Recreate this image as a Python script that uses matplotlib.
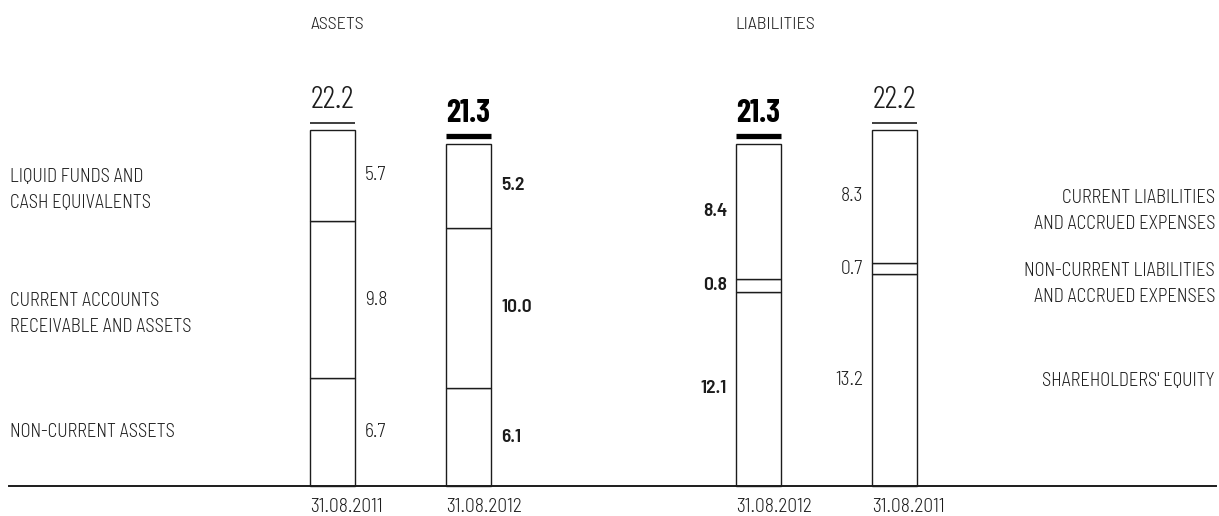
import matplotlib
matplotlib.use("Agg")
import matplotlib.pyplot as plt

# Balance sheet, EUR million
segments = ["non-current", "current", "liquid"]
assets_2011 = [6.7, 9.8, 5.7]
assets_2012 = [6.1, 10.0, 5.2]
liab_2012 = [12.1, 0.8, 8.4]
liab_2011 = [13.2, 0.7, 8.3]
total_2011 = 22.2
total_2012 = 21.3
dates = ["31.08.2011", "31.08.2012", "31.08.2012", "31.08.2011"]

asset_labels = ["NON-CURRENT ASSETS", "CURRENT ACCOUNTS\nRECEIVABLE AND ASSETS",
                "LIQUID FUNDS AND\nCASH EQUIVALENTS"]
liab_labels = ["SHAREHOLDERS' EQUITY", "NON-CURRENT LIABILITIES\nAND ACCRUED EXPENSES",
               "CURRENT LIABILITIES\nAND ACCRUED EXPENSES"]

FONT = "Barlow Semi Condensed"
BIG = "Barlow Condensed"
INK = "#1c1c1c"
W, H = 1219, 516
BASE = 486          # pixel row of the baseline
PPU = 16.05         # pixels per EUR million


def vy(p):
    # pixel row -> value axis
    return (BASE - p) / PPU


fig = plt.figure(figsize=(W / 100, H / 100), dpi=100)
ax = fig.add_axes([0, 0, 1, 1])
ax.set_xlim(0, W)
ax.set_ylim(vy(H), vy(0))
ax.axis("off")

bar_w = 45
bars = [
    (310, assets_2011, total_2011, False, "right"),
    (446, assets_2012, total_2012, True, "right"),
    (736, liab_2012, total_2012, True, "left"),
    (872, liab_2011, total_2011, False, "left"),
]

for (x0, vals, total, bold, side), date in zip(bars, dates):
    weight = 600 if bold else 300
    bottom = 0
    for v in vals:
        ax.bar(x0, v, width=bar_w, bottom=bottom, align="edge",
               facecolor="white", edgecolor=INK, linewidth=1.0)
        mid = bottom + v / 2
        if side == "right":
            ax.text(x0 + bar_w + 10, mid, f"{v:.1f}", ha="left", va="center",
                    family=FONT, weight=weight, fontsize=14, color=INK)
        else:
            ax.text(x0 - 9, mid, f"{v:.1f}", ha="right", va="center",
                    family=FONT, weight=weight, fontsize=14, color=INK)
        bottom += v
    # total marker above the stack
    if bold:
        ax.plot([x0, x0 + bar_w], [bottom + 0.53] * 2, color="black",
                lw=3.8, solid_capstyle="butt")
        ax.text(x0 + bar_w / 2, bottom + 1.37, f"{total:.1f}", ha="center",
                va="baseline", family=BIG, weight=700, fontsize=23, color="black")
    else:
        ax.plot([x0, x0 + bar_w], [bottom + 0.44] * 2, color=INK,
                lw=1.2, solid_capstyle="butt")
        ax.text(x0 + bar_w / 2, bottom + 1.37, f"{total:.1f}", ha="center",
                va="baseline", family=BIG, weight=300, fontsize=23, color=INK)
    ax.text(x0, vy(507), date, ha="left", va="center", family=FONT,
            weight=300, fontsize=14, color=INK)

# baseline
ax.plot([9, 1216], [0, 0], color=INK, lw=1.4)

# headers
ax.text(311, vy(25), "ASSETS", ha="left", va="center", family=FONT,
        weight=300, fontsize=13, color=INK)
ax.text(735, vy(25), "LIABILITIES", ha="left", va="center", family=FONT,
        weight=300, fontsize=13, color=INK)

# category captions
for lab, p in zip(asset_labels, [432, 314, 190]):
    ax.text(10, vy(p), lab, ha="left", va="center", family=FONT, weight=300,
            fontsize=13.3, color=INK, linespacing=1.6)
for lab, p in zip(liab_labels, [381, 284, 211]):
    ax.text(1215, vy(p), lab, ha="right", va="center", family=FONT, weight=300,
            fontsize=13.3, color=INK, linespacing=1.6, multialignment="right")

fig.savefig("out.png", dpi=100)
